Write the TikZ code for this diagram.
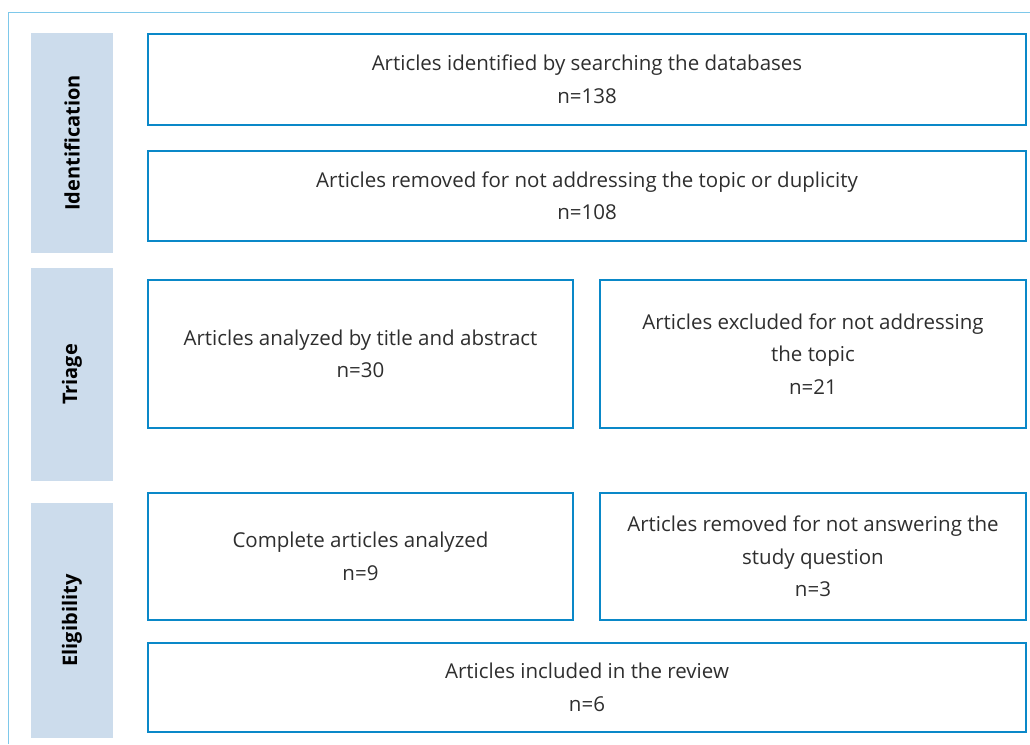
\documentclass[tikz,border=0pt]{standalone}
\usepackage{fontspec}
\setmainfont{Open Sans}
\definecolor{boxblue}{HTML}{0A88C8}
\definecolor{frameblue}{HTML}{7EC8EA}
\definecolor{sidefill}{HTML}{CCDCEC}
\definecolor{txt}{HTML}{2E2E2E}
\begin{document}
\begin{tikzpicture}[x=1pt,y=-1pt,
  stage/.style={rotate=90, fill=sidefill, inner sep=0pt, font=\fontsize{20}{24}\selectfont\bfseries, text=black},
  card/.style={draw=boxblue, line width=1.4pt, inner sep=0pt, align=center, text=txt,
    font=\fontsize{20.5}{32.5}\selectfont},
  frame/.style={draw=frameblue, line width=1.2pt}]
\useasboundingbox (0,0) rectangle (1030,744);
\draw[frame] (8.5,744) -- (8.5,12.5) -- (1030,12.5);
\node[stage, minimum width=220pt, minimum height=82pt] (s1) at (72,143) {Identification};
\node[stage, minimum width=213pt, minimum height=82pt] (s2) at (72,374.5) {Triage};
\node[stage, minimum width=235pt, minimum height=82pt] (s3) at (72,620.5) {Eligibility};
\node[card, minimum width=878pt, minimum height=91pt] (b1) at (587,79.5) {Articles identified by searching the databases\\n=138};
\node[card, minimum width=878pt, minimum height=90pt] (b2) at (587,196) {Articles removed for not addressing the topic or duplicity\\n=108};
\node[card, minimum width=425pt, minimum height=148pt] (b3) at (360.5,354) {Articles analyzed by title and abstract\\n=30};
\node[card, minimum width=426pt, minimum height=148pt] (b4) at (813,354) {Articles excluded for not addressing\\the topic\\n=21};
\node[card, minimum width=425pt, minimum height=127pt] (b5) at (360.5,556.5) {Complete articles analyzed\\n=9};
\node[card, minimum width=426pt, minimum height=127pt] (b6) at (813,556.5) {Articles removed for not answering the\\study question\\n=3};
\node[card, minimum width=878pt, minimum height=89pt] (b7) at (587,687.5) {Articles included in the review\\n=6};
\end{tikzpicture}
\end{document}
